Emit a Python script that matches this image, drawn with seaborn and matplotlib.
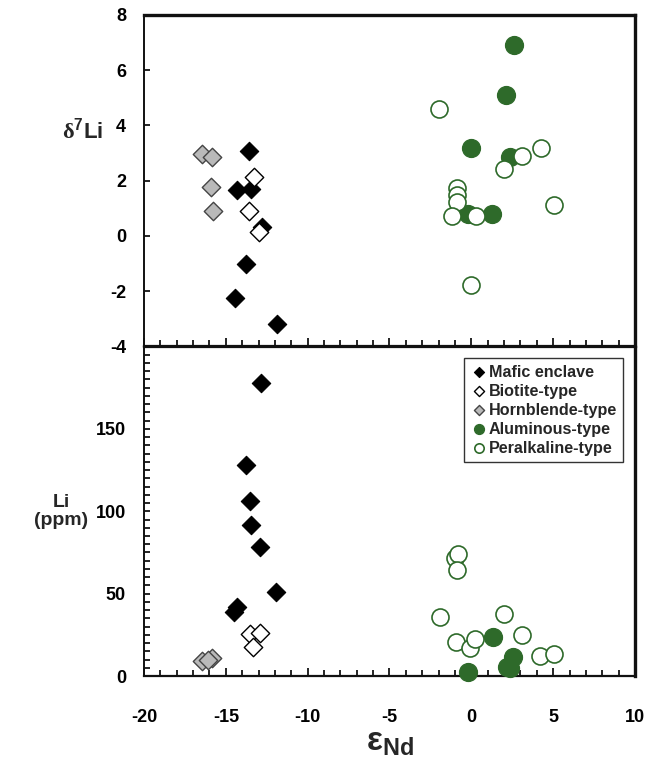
import matplotlib
matplotlib.use('Agg')
import matplotlib.pyplot as plt
import matplotlib.ticker as mticker
import pandas as pd
import seaborn as sns

# Data (x = eps Nd)
# upper panel: d7Li
mafic_x_top = [-13.57, -14.30, -13.48, -12.81, -13.79, -14.44, -11.86]
mafic_d7li = [3.09, 1.66, 1.69, 0.34, -1.03, -2.24, -3.19]
biotite_x_top = [-13.28, -13.57, -12.96]
biotite_d7li = [2.12, 0.91, 0.13]
hornblende_x_top = [-16.48, -15.83, -15.91, -15.77]
hornblende_d7li = [2.97, 2.87, 1.76, 0.91]
alum_x_top = [2.60, 2.11, -0.01, 2.36, -0.19, 1.28]
alum_d7li = [6.91, 5.10, 3.19, 2.85, 0.81, 0.81]
peralk_x_top = [-1.96, 3.07, 4.23, 2.01, -0.90, -0.86, -0.90, -1.20, 0.26, 5.05, -0.02]
peralk_d7li = [4.59, 2.91, 3.19, 2.41, 1.73, 1.48, 1.24, 0.72, 0.72, 1.12, -1.78]

# lower panel: Li (ppm)
mafic_x_bot = [-12.83, -13.79, -13.54, -13.48, -12.91, -11.92, -14.30, -14.48]
mafic_li = [178.0, 127.9, 106.0, 91.7, 78.5, 51.2, 42.1, 39.0]
biotite_x_bot = [-13.52, -12.91, -13.32]
biotite_li = [25.3, 25.9, 17.8]
hornblende_x_bot = [-16.48, -15.83, -16.10]
hornblende_li = [9.3, 10.7, 10.0]
alum_x_bot = [1.34, 2.56, 2.16, 2.36, -0.19]
alum_li = [23.9, 11.4, 5.6, 4.7, 2.2]
peralk_x_bot = [-1.00, -0.80, -0.86, -1.92, 2.01, -0.94, -0.09, 0.22, 3.07, 4.19, 5.05]
peralk_li = [71.4, 73.9, 64.3, 35.6, 37.5, 20.8, 16.8, 22.5, 24.9, 12.1, 13.4]

x_ticks = [-20, -15, -10, -5, 0, 5, 10]
top_yticks = [-4, -2, 0, 2, 4, 6, 8]
bot_yticks = [0, 50, 100, 150]

sns.set_style('ticks')
plt.rcParams['font.family'] = ['Liberation Sans', 'DejaVu Sans']
plt.rcParams['font.weight'] = 'bold'
plt.rcParams['axes.unicode_minus'] = False
plt.rcParams['mathtext.fontset'] = 'custom'
plt.rcParams['mathtext.rm'] = 'Liberation Serif'
plt.rcParams['mathtext.bf'] = 'Liberation Sans:bold'
plt.rcParams['mathtext.sf'] = 'Liberation Sans'

green = '#2e6a2a'
styles = {
    'Mafic enclave': dict(marker='D', s=88, color='black', edgecolor='black', linewidth=0.8),
    'Biotite-type': dict(marker='D', s=88, color='white', edgecolor='black', linewidth=1.0),
    'Hornblende-type': dict(marker='D', s=88, color='#b9b9b9', edgecolor='#444444', linewidth=1.0),
    'Aluminous-type': dict(marker='o', s=165, color=green, edgecolor=green, linewidth=1.0),
    'Peralkaline-type': dict(marker='o', s=150, color='white', edgecolor=green, linewidth=1.2),
}

top_data = {
    'Mafic enclave': (mafic_x_top, mafic_d7li),
    'Aluminous-type': (alum_x_top, alum_d7li),
    'Peralkaline-type': (peralk_x_top, peralk_d7li),
    'Hornblende-type': (hornblende_x_top, hornblende_d7li),
    'Biotite-type': (biotite_x_top, biotite_d7li),
}
bot_data = {
    'Mafic enclave': (mafic_x_bot, mafic_li),
    'Biotite-type': (biotite_x_bot, biotite_li),
    'Hornblende-type': (hornblende_x_bot, hornblende_li),
    'Aluminous-type': (alum_x_bot, alum_li),
    'Peralkaline-type': (peralk_x_bot, peralk_li),
}

fig = plt.figure(figsize=(6.49, 7.65), dpi=100)
ax_top = fig.add_axes([0.2219, 0.5471, 0.7565, 0.4333])
ax_bot = fig.add_axes([0.2219, 0.1163, 0.7565, 0.4307])

for name, (xs, ys) in top_data.items():
    d = pd.DataFrame({'eNd': xs, 'val': ys})
    sns.scatterplot(data=d, x='eNd', y='val', ax=ax_top, clip_on=False,
                    zorder=3, legend=False, **styles[name])

for name, (xs, ys) in bot_data.items():
    d = pd.DataFrame({'eNd': xs, 'val': ys})
    sns.scatterplot(data=d, x='eNd', y='val', ax=ax_bot, clip_on=False,
                    zorder=3, label=name, **styles[name])

for ax in (ax_top, ax_bot):
    ax.set_xlim(-20, 10)
    ax.xaxis.set_major_locator(mticker.FixedLocator(x_ticks))
    ax.xaxis.set_minor_locator(mticker.MultipleLocator(1))
    ax.tick_params(axis='both', which='both', direction='in', width=1.2,
                   labelsize=13, colors='black')
    ax.tick_params(axis='x', which='major', length=6)
    ax.tick_params(axis='x', which='minor', length=4.5)
    ax.tick_params(axis='y', which='both', length=4.5, pad=13)
    ax.spines['left'].set_linewidth(1.4)
    ax.spines['bottom'].set_linewidth(1.6)
    ax.spines['right'].set_linewidth(2.4)
    ax.spines['top'].set_linewidth(2.4)
    for sp in ax.spines.values():
        sp.set_color('#111111')

ax_top.set_ylim(-4, 8)
ax_top.set_yticks(top_yticks)
ax_top.tick_params(axis='x', labelbottom=False)
ax_top.set_xlabel('')
ax_top.set_ylabel(r'$\mathrm{\delta}^{\mathbf{7}}\mathbf{Li}$', rotation=0,
                  fontsize=16, fontweight='bold', va='center', ha='center')
ax_top.yaxis.set_label_coords(-0.125, 0.65)

ax_bot.set_ylim(0, 200)
ax_bot.set_yticks(bot_yticks)
ax_bot.yaxis.set_minor_locator(mticker.MultipleLocator(5))
ax_bot.spines['top'].set_linewidth(1.6)
ax_bot.tick_params(axis='x', pad=24)
ax_bot.set_xlabel(r'$\mathsf{\varepsilon}_{\mathbf{Nd}}$', fontsize=24)
ax_bot.xaxis.set_label_coords(0.5, -0.155)
ax_bot.set_ylabel('Li\n(ppm)', rotation=0, fontsize=14, fontweight='bold',
                  linespacing=1.05, va='center', ha='center')
ax_bot.yaxis.set_label_coords(-0.168, 0.50)
for ax in (ax_top, ax_bot):
    for lab in ax.get_xticklabels() + ax.get_yticklabels():
        lab.set_fontweight('bold')

leg = ax_bot.legend(loc='upper right', bbox_to_anchor=(0.976, 0.965),
                    borderaxespad=0, markerscale=0.55,
                    frameon=True, fancybox=False, edgecolor='black',
                    labelspacing=0.25, handletextpad=0.1, handlelength=1.0,
                    borderpad=0.4, prop={'weight': 'bold', 'size': 11.6})
leg.get_frame().set_linewidth(1.0)

fig.savefig('out.png', dpi=100)
